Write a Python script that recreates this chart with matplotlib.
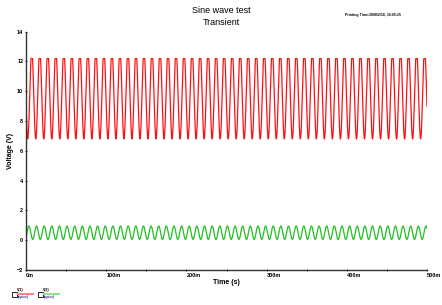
import numpy as np
import matplotlib
matplotlib.use('Agg')
import matplotlib.pyplot as plt
from matplotlib.ticker import MultipleLocator, FuncFormatter

plt.rcParams['font.family'] = ['Liberation Sans', 'DejaVu Sans']

# waveform parameters
t_end = 0.5            # s
red_freq = 100.0       # Hz
red_offset = 9.8       # V
red_amp = 3.0          # V
red_clip = 12.2        # V, flat tops
red_phase = np.pi + 0.27
green_freq = 105.0
green_offset = 0.5
green_amp = 0.45
green_phase = -0.74

y_ticks = [-2, 0, 2, 4, 6, 8, 10, 12, 14]
x_ticks = [0, 0.1, 0.2, 0.3, 0.4, 0.5]
x_labels = ['0m', '100m', '200m', '300m', '400m', '500m']

t = np.linspace(0, t_end, 20001)
v1 = np.minimum(red_offset + red_amp * np.sin(2 * np.pi * red_freq * t + red_phase), red_clip)
v6 = green_offset + green_amp * np.sin(2 * np.pi * green_freq * t + green_phase)

fig = plt.figure(figsize=(4.42, 3.05), dpi=100)
ax = fig.add_axes([0.059, 0.115, 0.907, 0.781])

ax.plot(t, v1, color='#ff1010', lw=0.9)
ax.plot(t, v6, color='#22c022', lw=0.9)

ax.set_xlim(0, 0.5)
ax.set_ylim(-2, 14)
ax.set_yticks(y_ticks)
ax.set_xticks(x_ticks)
ax.set_xticklabels(x_labels)
ax.xaxis.set_minor_locator(MultipleLocator(0.05))
for side in ['top', 'right']:
    ax.spines[side].set_visible(False)
for side in ['left', 'bottom']:
    ax.spines[side].set_linewidth(1.0)
    ax.spines[side].set_color('#333333')
ax.tick_params(axis='both', which='major', labelsize=4, length=2, width=0.6,
               direction='inout', pad=1)
ax.tick_params(axis='x', which='minor', length=2, width=0.6, direction='inout')
for lbl in ax.get_xticklabels() + ax.get_yticklabels():
    lbl.set_fontweight('bold')
for lbl in ax.get_xticklabels():
    lbl.set_horizontalalignment('left')

ax.set_xlabel('Time (s)', fontsize=5, fontweight='bold', labelpad=1)
ax.set_ylabel('Voltage (V)', fontsize=5, fontweight='bold', labelpad=2)

fig.text(0.5, 0.965, 'Sine wave test', ha='center', va='center', fontsize=6.5)
fig.text(0.5, 0.925, 'Transient', ha='center', va='center', fontsize=6.5)
fig.text(0.78, 0.95, 'Printing Time:2008/2/18, 16:05:25', ha='left', va='center',
         fontsize=2.5, fontweight='bold')

# legend strip at the bottom
for x0, name, col in [(0.027, 'V(1)', '#ff8080'), (0.085, 'V(6)', '#90e090')]:
    fig.text(x0 + 0.012, 0.05, name, fontsize=2.5, fontweight='bold', ha='left', va='center')
    fig.patches.append(plt.Rectangle((x0, 0.025), 0.012, 0.017, transform=fig.transFigure,
                                     fill=False, edgecolor='black', lw=0.6))
    fig.add_artist(plt.Line2D([x0 + 0.014, x0 + 0.048], [0.037, 0.037],
                              transform=fig.transFigure, color=col, lw=1.5))
    fig.text(x0 + 0.014, 0.025, '(spice)', fontsize=2.5, fontweight='bold', ha='left',
             va='center', color='#334488')

fig.savefig('out.png', dpi=100)
